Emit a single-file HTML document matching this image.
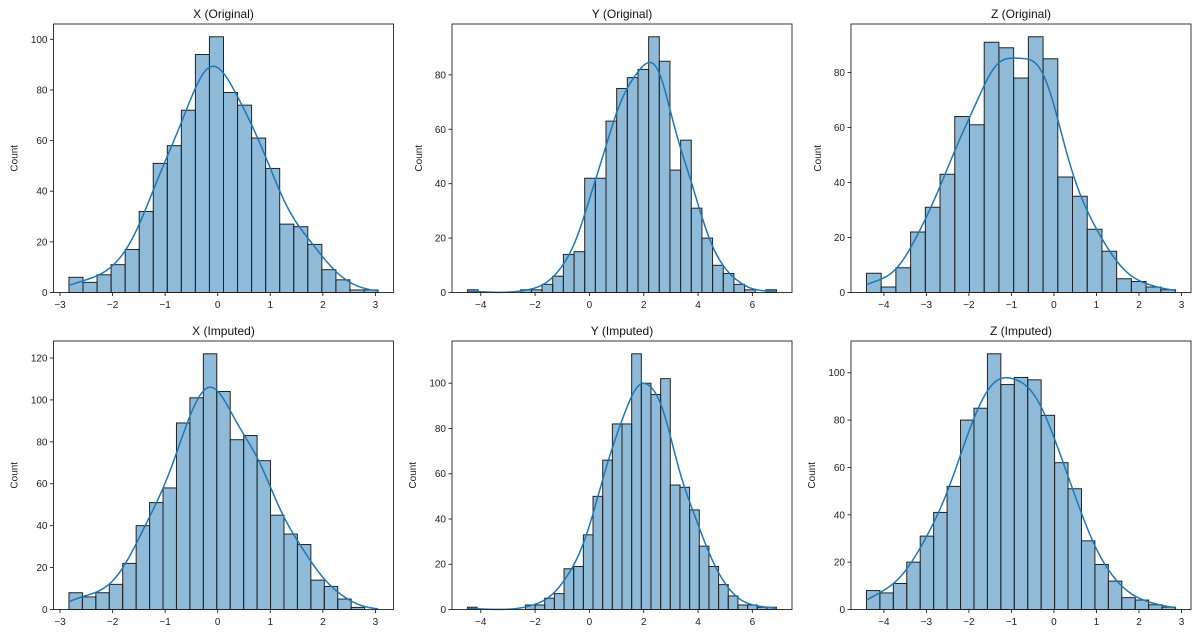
<!DOCTYPE html>
<html><head><meta charset="utf-8"><style>
body{margin:0;background:#fff;}
svg{display:block;font-family:"Liberation Sans","DejaVu Sans",sans-serif;}
</style></head><body>
<svg id="fig" width="1200" height="636" viewBox="0 0 1200 636"></svg>
<script>
// ---- data (bin counts) ----
const xOrigCounts=[6,4,7,11,17,32,51,58,72,94,101,79,74,61,49,27,26,19,9,5,1,1];
const yOrigCounts=[1,0,0,0,0,1,1,3,6,14,15,42,42,63,75,79,82,94,85,45,56,31,20,10,7,3,1,0,1];
const zOrigCounts=[7,2,9,22,31,43,64,61,91,89,78,93,85,42,35,23,15,5,4,2,1];
const xImpCounts=[8,6,8,12,22,40,51,58,89,101,122,104,81,83,71,45,36,31,14,11,5,1,0];
const yImpCounts=[1,0,0,0,0,0,2,2,5,7,18,19,33,50,66,82,82,113,100,95,102,55,54,44,28,19,11,6,2,2,1,1];
const zImpCounts=[8,7,11,20,31,41,52,80,85,108,95,98,97,82,62,51,29,19,12,5,4,2,1];
const xRange=[-2.83,3.05], yRange=[-4.49,6.89], zRange=[-4.41,2.86];
const xTicks=[-3,-2,-1,0,1,2,3], yTicks=[-4,-2,0,2,4,6], zTicks=[-4,-3,-2,-1,0,1,2,3];
const titles=["X (Original)","Y (Original)","Z (Original)","X (Imputed)","Y (Imputed)","Z (Imputed)"];

const NS="http://www.w3.org/2000/svg";
const svg=document.getElementById('fig');
function mk(tag,attrs,parent){const e=document.createElementNS(NS,tag);for(const k in attrs)e.setAttribute(k,attrs[k]);(parent||svg).appendChild(e);return e;}
function fmt(v){return v<0?'\u2212'+Math.abs(v):String(v);}

const panels=[
 {counts:xOrigCounts,range:xRange,ticks:xTicks,left:53.5,top:24,name:'x-original'},
 {counts:yOrigCounts,range:yRange,ticks:yTicks,left:452,top:24,name:'y-original'},
 {counts:zOrigCounts,range:zRange,ticks:zTicks,left:851,top:24,name:'z-original'},
 {counts:xImpCounts,range:xRange,ticks:xTicks,left:53.5,top:341,name:'x-imputed'},
 {counts:yImpCounts,range:yRange,ticks:yTicks,left:452,top:341,name:'y-imputed'},
 {counts:zImpCounts,range:zRange,ticks:zTicks,left:851,top:341,name:'z-imputed'}
];
const W=340,H=268.5;

panels.forEach((p,i)=>{
  const g=mk('g',{});
  
  
  const [d0,d1]=p.range, pad=(d1-d0)*0.05;
  const xmin=d0-pad,xmax=d1+pad;
  const maxc=Math.max(...p.counts), ymax=maxc*1.05;
  const sx=v=>p.left+(v-xmin)/(xmax-xmin)*W;
  const sy=v=>p.top+H-v/ymax*H;
  const n=p.counts.length,bw=(d1-d0)/n;
  p.counts.forEach((c,k)=>{
    if(c<=0)return;
    const x0=sx(d0+k*bw),x1=sx(d0+(k+1)*bw);
    const r=mk('rect',{x:x0,y:sy(c),width:x1-x0,height:sy(0)-sy(c),fill:'rgba(31,119,180,0.5)',stroke:'#222','stroke-width':1},g);
    
    
  });
  let N=0,m=0;p.counts.forEach((c,k)=>{N+=c;m+=c*(d0+(k+.5)*bw);});m/=N;
  let v=0;p.counts.forEach((c,k)=>{const t=d0+(k+.5)*bw-m;v+=c*t*t;});const sd=Math.sqrt(v/N);
  const h=sd*Math.pow(N,-0.2)*1.15;
  let dpath='';
  for(let s=0;s<=200;s++){
    const xv=d0+(d1-d0)*s/200;let dens=0;
    p.counts.forEach((c,k)=>{
      for(let q=0;q<4;q++){const xc=d0+(k+(q+.5)/4)*bw;const z=(xv-xc)/h;dens+=c/4*Math.exp(-.5*z*z);}
    });
    dens=dens/(N*h*Math.sqrt(2*Math.PI));
    const yc=dens*N*bw;
    dpath+=(s?'L':'M')+sx(xv).toFixed(2)+','+sy(yc).toFixed(2);
  }
  const kde=mk('path',{d:dpath,fill:'none',stroke:'#1f77b4','stroke-width':1.5},g);
  
  
  const fr=mk('rect',{x:p.left,y:p.top,width:W,height:H,fill:'none',stroke:'#222','stroke-width':0.9},g);
  
  
  p.ticks.forEach(t=>{
    const x=sx(t);
    mk('line',{x1:x,x2:x,y1:p.top+H,y2:p.top+H+3.5,stroke:'#222','stroke-width':0.9},g);
    const tx=mk('text',{x:x,y:p.top+H+15.5,'font-size':10,'text-anchor':'middle',fill:'#222'},g);
    tx.textContent=fmt(t);
    
    
  });
  for(let t=0;t<=ymax;t+=20){
    const y=sy(t);
    mk('line',{x1:p.left-3.5,x2:p.left,y1:y,y2:y,stroke:'#222','stroke-width':0.9},g);
    const ty=mk('text',{x:p.left-6,y:y+3.5,'font-size':10,'text-anchor':'end',fill:'#222'},g);
    ty.textContent=String(t);
    
    
  }
  const off=ymax>=100?40:34;
  const yl=mk('text',{x:0,y:0,'font-size':10,'text-anchor':'middle',fill:'#222',transform:`translate(${p.left-off+4},${p.top+H/2}) rotate(-90)`},g);
  yl.textContent='Count';
  
  
  const ti=mk('text',{x:p.left+W/2,y:p.top-6,'font-size':12,'text-anchor':'middle',fill:'#111'},g);
  ti.textContent=titles[i];
  
  
});
</script>
</body></html>
